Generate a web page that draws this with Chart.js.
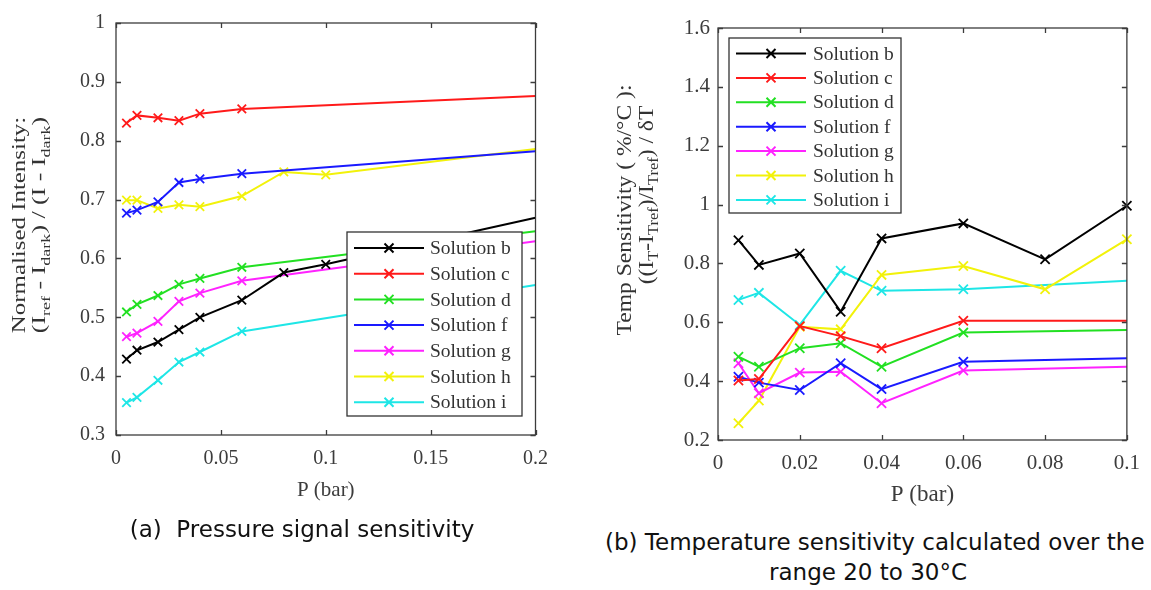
<!DOCTYPE html>
<html>
<head>
<meta charset="utf-8">
<script src="https://cdn.jsdelivr.net/npm/chart.js@4.4.1/dist/chart.umd.min.js"></script>
<style>
  body { margin: 0; background: #fff; width: 1151px; height: 590px; overflow: hidden; position: relative; }
  canvas { position: absolute; top: 0; }
  .ytitle { position: absolute; white-space: nowrap; font-family: "Liberation Serif", serif; color: #333; }
  .ytitle span { font-size: 70%; position: relative; top: 0.35em; }
  .caption { position: absolute; white-space: nowrap; font-family: "DejaVu Sans", sans-serif; font-size: 23px; color: #111; }
</style>
</head>
<body>
<canvas id="pressureChart" width="560" height="520" style="left:0"></canvas>
<canvas id="tempChart" width="561" height="520" style="left:590px"></canvas>

<div class="ytitle" style="left:19px;top:225px;font-size:19px;transform:translate(-50%,-50%) rotate(-90deg) scaleX(1.31)">Normalised Intensity:</div>
<div class="ytitle" style="left:39px;top:225px;font-size:19px;transform:translate(-50%,-50%) rotate(-90deg) scaleX(1.36)">(I<span>ref</span> - I<span>dark</span>) / (I - I<span>dark</span>)</div>

<div class="ytitle" style="left:624px;top:210px;font-size:22px;transform:translate(-50%,-50%) rotate(-90deg) scaleX(1.07)">Temp Sensitivity ( %/°C ):</div>
<div class="ytitle" style="left:646px;top:195px;font-size:22px;transform:translate(-50%,-50%) rotate(-90deg) scaleX(1.07)">((I<span>T</span>-I<span>Tref</span>)/I<span>Tref</span>) / δT</div>

<div class="caption" style="left:0;width:604px;top:516px;text-align:center">(a)&nbsp; Pressure signal sensitivity</div>
<div class="caption" style="left:605px;top:529px">(b) Temperature sensitivity calculated over the</div>
<div class="caption" style="left:668px;width:400px;top:559px;text-align:center">range 20 to 30°C</div>

<script>
// --- shared labels / colours (MATLAB line colours) ---
const SOLUTIONS = ["Solution b", "Solution c", "Solution d", "Solution f", "Solution g", "Solution h", "Solution i"];
const COLORS = ["#000000", "#ff1a1a", "#22e022", "#1a1aff", "#ff22ff", "#f2f20a", "#1ee6e6"];

// --- (a) normalised intensity vs pressure ---
const P_SHORT = [0.005, 0.01, 0.02, 0.03, 0.04, 0.06, 0.2];
const P_LONG = [0.005, 0.01, 0.02, 0.03, 0.04, 0.06, 0.08, 0.1, 0.2];
const normB = [0.429, 0.444, 0.458, 0.479, 0.500, 0.529, 0.576, 0.590, 0.669];
const normC = [0.830, 0.843, 0.839, 0.834, 0.846, 0.854, 0.876];
const normD = [0.509, 0.522, 0.537, 0.556, 0.566, 0.585, 0.646];
const normF = [0.677, 0.682, 0.696, 0.729, 0.735, 0.744, 0.782];
const normG = [0.467, 0.473, 0.493, 0.527, 0.541, 0.562, 0.629];
const normH = [0.699, 0.699, 0.685, 0.691, 0.688, 0.706, 0.747, 0.742, 0.786];
const normI = [0.355, 0.364, 0.393, 0.424, 0.441, 0.476, 0.555];

// --- (b) temperature sensitivity vs pressure ---
const PT_SHORT = [0.005, 0.01, 0.02, 0.03, 0.04, 0.06, 0.1];
const PT_LONG = [0.005, 0.01, 0.02, 0.03, 0.04, 0.06, 0.08, 0.1];
const sensB = [0.879, 0.795, 0.834, 0.636, 0.885, 0.936, 0.814, 0.996];
const sensC = [0.402, 0.407, 0.587, 0.553, 0.512, 0.605, 0.605];
const sensD = [0.483, 0.449, 0.512, 0.529, 0.449, 0.565, 0.574];
const sensF = [0.415, 0.395, 0.370, 0.461, 0.373, 0.466, 0.478];
const sensG = [0.461, 0.359, 0.429, 0.432, 0.325, 0.436, 0.449];
const sensH = [0.257, 0.334, 0.585, 0.576, 0.761, 0.791, 0.712, 0.882];
const sensI = [0.676, 0.700, 0.591, 0.775, 0.707, 0.712, 0.741];

const AXIS_COLOR = "#3c3c3c";

// one line series; openEnd = line runs on past the axis limit, so no marker on the last point
function series(idx, xs, ys, openEnd, r) {
  return {
    label: SOLUTIONS[idx],
    borderColor: COLORS[idx],
    backgroundColor: COLORS[idx],
    data: xs.map((x, i) => ({ x, y: ys[i] })),
    borderWidth: 2,
    tension: 0,
    pointStyle: "crossRot",
    pointRadius: xs.map((x, i) => (openEnd && i === xs.length - 1 ? 0 : r)),
    pointBorderWidth: 1.8,
    clip: false
  };
}

const trimNum = (v) => String(Math.round(v * 1000) / 1000);

// boxed axes with inward ticks + boxed legend (MATLAB look)
const matlabFrame = {
  id: "matlabFrame",
  afterDatasetsDraw(chart, args, opts) {
    const ctx = chart.ctx;
    const { left, top, right, bottom } = chart.chartArea;
    const xs = chart.scales.x, ys = chart.scales.y;
    ctx.save();
    ctx.strokeStyle = AXIS_COLOR;
    ctx.lineWidth = 1.3;
    ctx.strokeRect(left, top, right - left, bottom - top);
    ctx.beginPath();
    xs.ticks.forEach((t) => {
      const px = Math.round(xs.getPixelForValue(t.value)) + 0.5;
      ctx.moveTo(px, bottom); ctx.lineTo(px, bottom - 5);
      ctx.moveTo(px, top); ctx.lineTo(px, top + 5);
    });
    ys.ticks.forEach((t) => {
      const py = Math.round(ys.getPixelForValue(t.value)) + 0.5;
      ctx.moveTo(left, py); ctx.lineTo(left + 5, py);
      ctx.moveTo(right, py); ctx.lineTo(right - 5, py);
    });
    ctx.stroke();

    // legend
    const L = opts;
    ctx.fillStyle = "#fff";
    ctx.fillRect(L.left, L.top, L.width, L.height);
    ctx.strokeStyle = "#333";
    ctx.lineWidth = 1.3;
    ctx.strokeRect(L.left, L.top, L.width, L.height);
    ctx.font = L.fontSize + "px 'Liberation Serif'";
    ctx.textBaseline = "middle";
    ctx.textAlign = "left";
    chart.data.datasets.forEach((ds, i) => {
      const y = L.firstRow + i * L.rowH;
      ctx.strokeStyle = ds.borderColor;
      ctx.lineWidth = 2;
      ctx.beginPath();
      ctx.moveTo(L.lineX0, y); ctx.lineTo(L.lineX1, y);
      const mx = (L.lineX0 + L.lineX1) / 2, d = 4.5;
      ctx.moveTo(mx - d, y - d); ctx.lineTo(mx + d, y + d);
      ctx.moveTo(mx - d, y + d); ctx.lineTo(mx + d, y - d);
      ctx.stroke();
      ctx.fillStyle = "#333";
      ctx.fillText(ds.label, L.textX, y + 1);
    });
    ctx.restore();
  }
};

function makeChart(id, datasets, cfg) {
  const ctx = document.getElementById(id).getContext("2d");
  return new Chart(ctx, {
    type: "line",
    data: { datasets },
    plugins: [matlabFrame],
    options: {
      responsive: false,
      animation: false,
      devicePixelRatio: 1,
      layout: { padding: cfg.padding },
      plugins: {
        legend: { display: false },
        tooltip: { enabled: false },
        matlabFrame: cfg.legend
      },
      scales: {
        x: {
          type: "linear",
          min: cfg.xMin, max: cfg.xMax,
          grid: { display: false, drawTicks: false },
          border: { display: false },
          ticks: {
            stepSize: cfg.xStep,
            padding: cfg.xTickPad,
            color: AXIS_COLOR,
            font: { family: "Liberation Serif", size: cfg.tickSize },
            callback: trimNum,
            maxRotation: 0
          },
          title: {
            display: true,
            text: "P (bar)",
            color: AXIS_COLOR,
            font: { family: "Liberation Serif", size: cfg.titleSize, lineHeight: 1.2 },
            padding: { top: 0, bottom: cfg.titleBottom }
          },
          afterFit: (s) => { s.height = cfg.xAxisH; }
        },
        y: {
          type: "linear",
          min: cfg.yMin, max: cfg.yMax,
          grid: { display: false, drawTicks: false },
          border: { display: false },
          ticks: {
            stepSize: cfg.yStep,
            padding: cfg.yTickPad,
            color: AXIS_COLOR,
            font: { family: "Liberation Serif", size: cfg.tickSize },
            callback: trimNum
          },
          afterFit: (s) => { s.width = cfg.yAxisW; }
        }
      }
    }
  });
}

makeChart("pressureChart", [
  series(0, P_LONG, normB, true, 6),
  series(1, P_SHORT, normC, true, 6),
  series(2, P_SHORT, normD, true, 6),
  series(3, P_SHORT, normF, true, 6),
  series(4, P_SHORT, normG, true, 6),
  series(5, P_LONG, normH, true, 6),
  series(6, P_SHORT, normI, true, 6)
], {
  padding: { top: 14, right: 23, left: 0, bottom: 0 },
  xMin: 0, xMax: 0.2, xStep: 0.05,
  yMin: 0.3, yMax: 1, yStep: 0.1,
  tickSize: 20, titleSize: 21, titleBottom: 17,
  xTickPad: 12, yTickPad: 11,
  xAxisH: 85, yAxisW: 116,
  legend: { left: 347, top: 232, width: 175, height: 184, firstRow: 248, rowH: 25.7,
            lineX0: 354, lineX1: 424, textX: 430, fontSize: 19.5 }
});

makeChart("tempChart", [
  series(0, PT_LONG, sensB, false, 6.5),
  series(1, PT_SHORT, sensC, true, 6.5),
  series(2, PT_SHORT, sensD, true, 6.5),
  series(3, PT_SHORT, sensF, true, 6.5),
  series(4, PT_SHORT, sensG, true, 6.5),
  series(5, PT_LONG, sensH, false, 6.5),
  series(6, PT_SHORT, sensI, true, 6.5)
], {
  padding: { top: 28, right: 19, left: 0, bottom: 0 },
  xMin: 0, xMax: 0.1, xStep: 0.02,
  yMin: 0.2, yMax: 1.6, yStep: 0.2,
  tickSize: 21, titleSize: 23, titleBottom: 11,
  xTickPad: 11, yTickPad: 8,
  xAxisH: 80, yAxisW: 128,
  legend: { left: 139, top: 38, width: 172, height: 175, firstRow: 53.5, rowH: 24.4,
            lineX0: 146, lineX1: 216, textX: 223, fontSize: 19.5 }
});
</script>
</body>
</html>
